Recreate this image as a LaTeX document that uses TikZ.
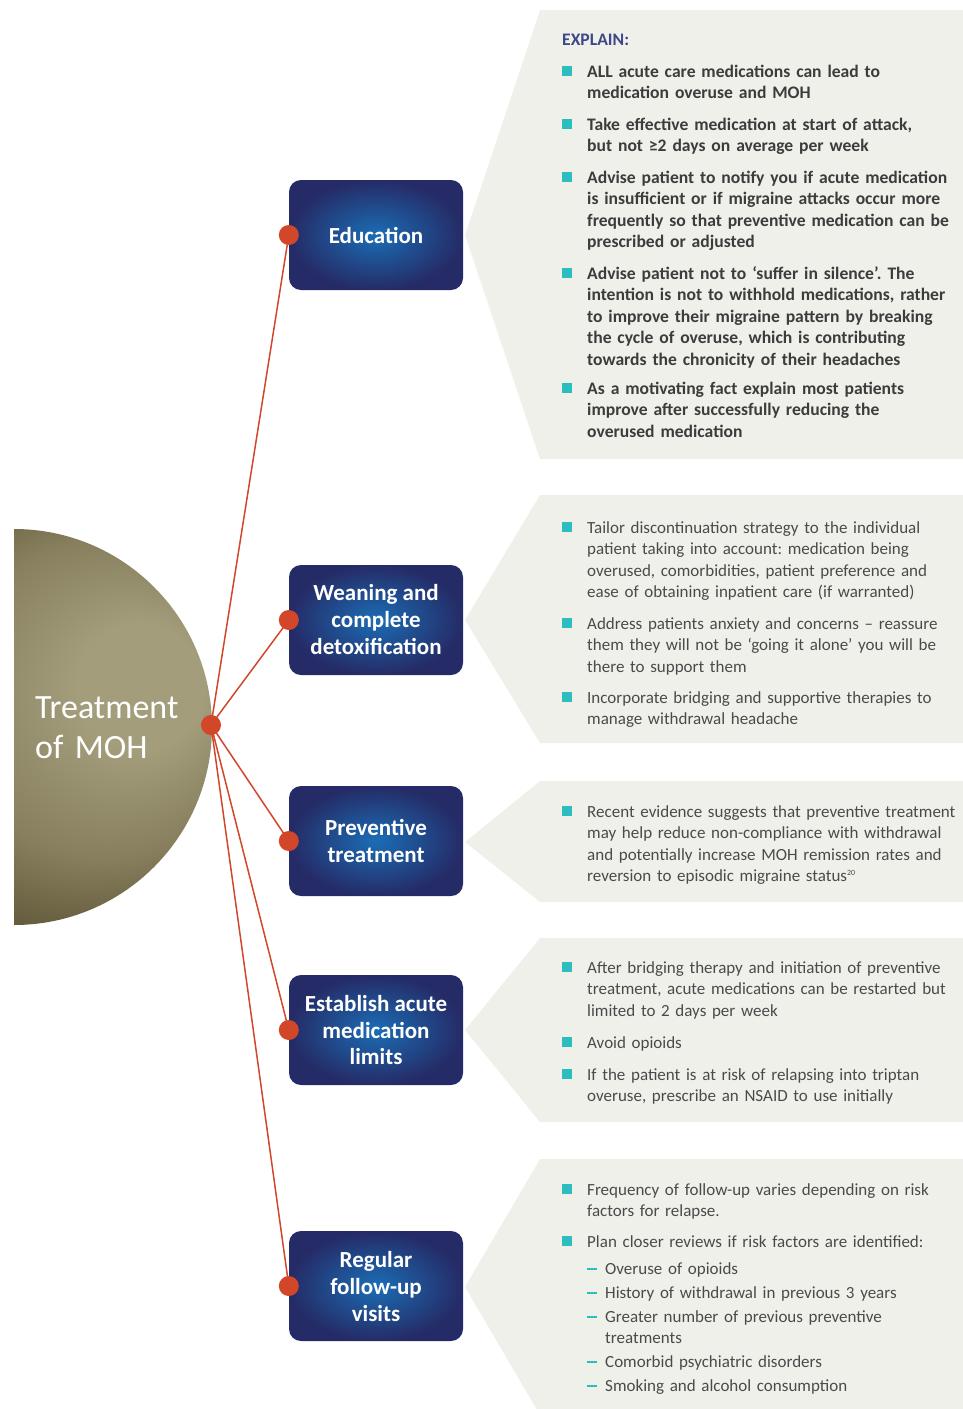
\documentclass[tikz,border=0pt]{standalone}
\usepackage{fontspec}
\setmainfont{Carlito}
\usepackage{tikz}
\usetikzlibrary{shadings}

\definecolor{panelgray}{HTML}{F0F0EB}
\definecolor{boxlight}{HTML}{1B6DB5}
\definecolor{boxdark}{HTML}{252B66}
\definecolor{linered}{HTML}{D2472A}
\definecolor{bullteal}{HTML}{2CBDC0}
\definecolor{bodytext}{HTML}{4A4A4A}
\definecolor{boldtext}{HTML}{3C3C3C}
\definecolor{headblue}{HTML}{3D4887}
\definecolor{mohlight}{HTML}{A39D7C}
\definecolor{mohmid}{HTML}{877F5E}
\definecolor{mohdark}{HTML}{5B5233}

\pgfdeclareradialshading{mohball}{\pgfpoint{19bp}{6bp}}{color(0bp)=(mohlight); color(8bp)=(mohlight); color(20bp)=(mohmid); color(31bp)=(mohdark); color(50bp)=(mohdark)}

\newcommand\bodyfont{\fontsize{17}{21.5}\selectfont}
\newcommand\labelfont{\fontsize{23}{27}\selectfont\bfseries}

\tikzset{
	panel/.style={fill=panelgray},
	stepbox/.style={rounded corners=12pt, inner color=boxlight, outer color=boxdark,
		minimum width=174pt, minimum height=110pt, inner sep=0pt,
		text=white, font=\labelfont, align=center},
	knob/.style={circle, fill=linered, minimum size=20pt, inner sep=0pt},
	link/.style={draw=linered, line width=1.5pt},
	item/.style={anchor=base west, inner sep=0pt, text width=372pt, align=left,
		font=\bodyfont\frenchspacing, text=bodytext},
	bolditem/.style={item, font=\fontsize{17.6}{21.5}\selectfont\bfseries\frenchspacing, text=boldtext},
	subitem/.style={item, text width=354pt}
}

\begin{document}
\begin{tikzpicture}[x=1pt, y=-1pt]
\useasboundingbox (0,0) rectangle (963,1409);

% Grey panels pointing to the boxes
\foreach \t/\m/\b in {10/235/459, 495/620/743, 781/842/902, 938/1030/1122, 1159/1287/1415}
	\fill[panel] (540,\t) -- (963,\t) -- (963,\b) -- (540,\b) -- (465,\m) -- cycle;

% Half disc on the left
\begin{scope}
	\clip (14,500) rectangle (300,960);
	\shade[shading=mohball] (14,727) circle[radius=198pt];
\end{scope}
\node[anchor=base west, inner sep=0pt, text width=200pt, align=left, text=white,
	font=\fontsize{34}{40}\selectfont] (title) at (35,718) {Treatment\\of MOH};

% Boxes
\node[stepbox] (educ) at (376,235) {Education};
\node[stepbox] (wean) at (376,620) {Weaning and\\complete\\detoxification};
\node[stepbox] (prev) at (376,841) {Preventive\\treatment};
\node[stepbox] (limit) at (376,1030) {Establish acute\\medication\\limits};
\node[stepbox] (visit) at (376,1286) {Regular\\follow-up\\visits};

% Connectors from the hub to each box
\coordinate (hubpt) at (211,725);
\foreach \b in {educ,wean,prev,limit,visit}
	\draw[link] (hubpt) -- (\b.west);
\foreach \b in {educ,wean,prev,limit,visit}
	\node[knob] (k-\b) at (\b.west) {};
\node[knob] (hub) at (hubpt) {};

% Square bullets
\foreach \y in {77,130,183,279,394, 533,629,703, 817, 973,1048,1080, 1195,1247}
	\fill[bullteal] (562,\y-11) rectangle ++(10,10);
% Dashes
\foreach \y in {1274,1298,1322,1367,1391}
	\fill[bullteal] (587,\y-6) rectangle ++(10,2);

% Education
\node[anchor=base west, inner sep=0pt, font=\fontsize{17.6}{21.5}\selectfont\bfseries, text=headblue] (explain) at (562,45) {EXPLAIN:};
\node[bolditem] (e1) at (587,77) {ALL acute care medications can lead to\\medication overuse and MOH};
\node[bolditem] (e2) at (587,130) {Take effective medication at start of attack,\\but not ≥2 days on average per week};
\node[bolditem] (e3) at (587,183) {Advise patient to notify you if acute medication\\is insufficient or if migraine attacks occur more\\frequently so that preventive medication can be\\prescribed or adjusted};
\node[bolditem] (e4) at (587,279) {Advise patient not to ‘suffer in silence’. The\\intention is not to withhold medications, rather\\to improve their migraine pattern by breaking\\the cycle of overuse, which is contributing\\towards the chronicity of their headaches};
\node[bolditem] (e5) at (587,394) {As a motivating fact explain most patients\\improve after successfully reducing the\\overused medication};

% Weaning
\node[item] (w1) at (587,533) {Tailor discontinuation strategy to the individual\\patient taking into account: medication being\\overused, comorbidities, patient preference and\\ease of obtaining inpatient care (if warranted)};
\node[item] (w2) at (587,629) {Address patients anxiety and concerns – reassure\\them they will not be ‘going it alone’ you will be\\there to support them};
\node[item] (w3) at (587,703) {Incorporate bridging and supportive therapies to\\manage withdrawal headache};

% Preventive
\node[item] (p1) at (587,817) {Recent evidence suggests that preventive treatment\\may help reduce non-compliance with withdrawal\\and potentially increase MOH remission rates and\\reversion to episodic migraine status\textsuperscript{\fontsize{8}{8}\selectfont 20}};

% Limits
\node[item] (l1) at (587,973) {After bridging therapy and initiation of preventive\\treatment, acute medications can be restarted but\\limited to 2 days per week};
\node[item] (l2) at (587,1048) {Avoid opioids};
\node[item] (l3) at (587,1080) {If the patient is at risk of relapsing into triptan\\overuse, prescribe an NSAID to use initially};

% Follow-up
\node[item] (f1) at (587,1195) {Frequency of follow-up varies depending on risk\\factors for relapse.};
\node[item] (f2) at (587,1247) {Plan closer reviews if risk factors are identified:};
\node[subitem] (f3) at (605,1274) {Overuse of opioids};
\node[subitem] (f4) at (605,1298) {History of withdrawal in previous 3 years};
\node[subitem] (f5) at (605,1322) {Greater number of previous preventive\\treatments};
\node[subitem] (f6) at (605,1367) {Comorbid psychiatric disorders};
\node[subitem] (f7) at (605,1391) {Smoking and alcohol consumption};
\end{tikzpicture}
\end{document}
